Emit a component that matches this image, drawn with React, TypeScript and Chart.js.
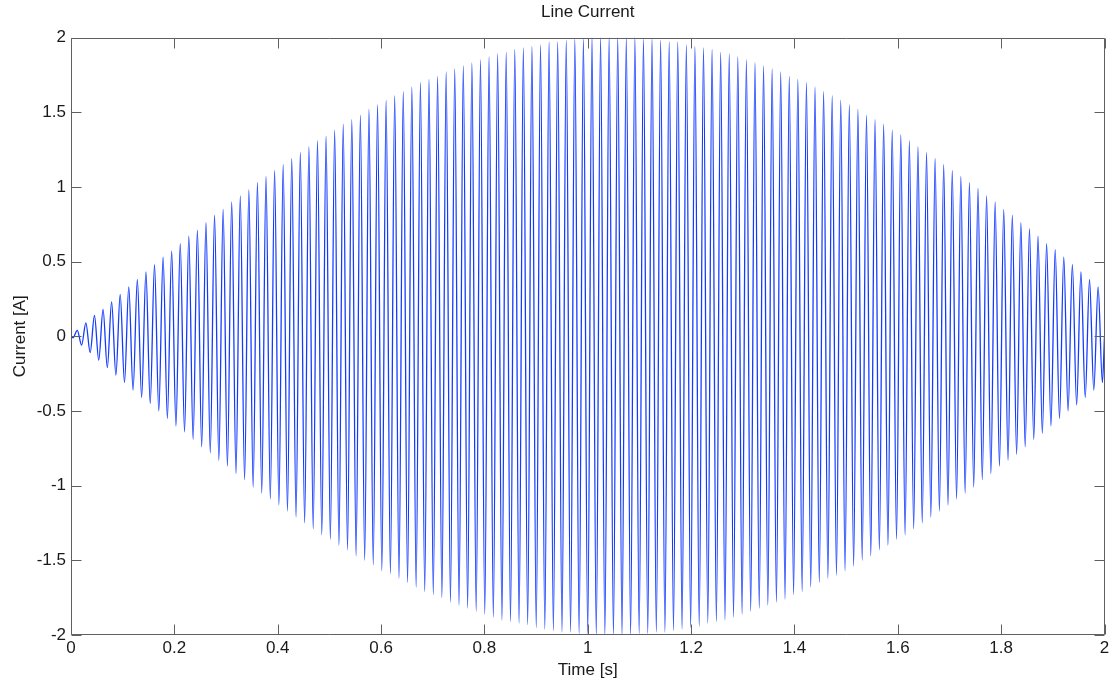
import React, { useEffect, useRef } from "react";
import { Chart, registerables } from "chart.js";

Chart.register(...registerables);

// ---- Text ----
const chartTitle = "Line Current";
const xAxisTitle = "Time [s]";
const yAxisTitle = "Current [A]";

// ---- Axis ticks ----
const xTicks = [0, 0.2, 0.4, 0.6, 0.8, 1, 1.2, 1.4, 1.6, 1.8, 2];
const xTickLabels = ["0", "0.2", "0.4", "0.6", "0.8", "1", "1.2", "1.4", "1.6", "1.8", "2"];
const yTicks = [-2, -1.5, -1, -0.5, 0, 0.5, 1, 1.5, 2];
const yTickLabels = ["-2", "-1.5", "-1", "-0.5", "0", "0.5", "1", "1.5", "2"];

// ---- Signal ----
// start of trace, first tiny dip, then alternating extrema every half period
const startTime = 0;
const startValue = 0;
const firstDipTime = 0.0039;
const firstDipValue = -0.01;
const firstPeakTime = 0.0122; // time of first positive extremum [s]
const halfPeriod = 0.0083; // measured spacing between successive extrema [s]
const endTime = 2;
const endValue = 0;

// positive extrema (one per cycle), in time order
const positivePeaks = [
  0.04, 0.09, 0.14, 0.18, 0.23, 0.28, 0.33, 0.38, 0.43, 0.48,
  0.53, 0.57, 0.62, 0.67, 0.71, 0.76, 0.81, 0.85, 0.90, 0.94,
  0.98, 1.03, 1.07, 1.11, 1.15, 1.19, 1.23, 1.27, 1.31, 1.34,
  1.38, 1.42, 1.45, 1.48, 1.52, 1.55, 1.58, 1.61, 1.64, 1.67,
  1.70, 1.72, 1.74, 1.77, 1.79, 1.81, 1.83, 1.85, 1.87, 1.89,
  1.90, 1.92, 1.93, 1.94, 1.95, 1.97, 1.97, 1.98, 1.99, 1.99,
  2.00, 2.00, 2.00, 2.00, 2.00, 2.00, 1.99, 1.99, 1.98, 1.97,
  1.97, 1.95, 1.94, 1.93, 1.92, 1.90, 1.89, 1.87, 1.85, 1.83,
  1.81, 1.79, 1.77, 1.74, 1.72, 1.70, 1.67, 1.64, 1.61, 1.58,
  1.55, 1.52, 1.48, 1.45, 1.42, 1.38, 1.35, 1.31, 1.27, 1.23,
  1.19, 1.15, 1.11, 1.07, 1.03, 0.99, 0.94, 0.90, 0.85, 0.81,
  0.76, 0.72, 0.67, 0.62, 0.58, 0.53, 0.48, 0.43, 0.38, 0.33,
];

// negative extrema (one per cycle), in time order
const negativePeaks = [
  -0.06, -0.11, -0.16, -0.21, -0.26, -0.31, -0.36, -0.41, -0.45, -0.50,
  -0.55, -0.60, -0.64, -0.69, -0.74, -0.78, -0.83, -0.87, -0.92, -0.96,
  -1.01, -1.05, -1.09, -1.13, -1.17, -1.21, -1.25, -1.29, -1.33, -1.36,
  -1.40, -1.43, -1.47, -1.50, -1.53, -1.57, -1.59, -1.62, -1.65, -1.68,
  -1.71, -1.73, -1.75, -1.78, -1.80, -1.82, -1.84, -1.86, -1.88, -1.90,
  -1.91, -1.92, -1.93, -1.95, -1.96, -1.97, -1.98, -1.98, -1.99, -1.99,
  -2.00, -2.00, -2.00, -2.00, -2.00, -1.99, -1.99, -1.98, -1.98, -1.97,
  -1.96, -1.95, -1.94, -1.92, -1.91, -1.90, -1.88, -1.86, -1.84, -1.82,
  -1.80, -1.78, -1.76, -1.73, -1.71, -1.68, -1.65, -1.62, -1.60, -1.57,
  -1.54, -1.50, -1.47, -1.43, -1.40, -1.36, -1.33, -1.29, -1.25, -1.21,
  -1.17, -1.13, -1.09, -1.05, -1.01, -0.96, -0.92, -0.87, -0.83, -0.79,
  -0.74, -0.69, -0.65, -0.60, -0.55, -0.50, -0.46, -0.41, -0.36, -0.31,
];

const FONT = "'Liberation Sans', Arial, Helvetica, sans-serif";
const TEXT_COLOR = "#1a1a1a";
const AXIS_COLOR = "#606060";
const LINE_COLOR = "rgb(20, 60, 255)";

function buildPoints() {
  const pts: { x: number; y: number }[] = [
    { x: startTime, y: startValue },
    { x: firstDipTime, y: firstDipValue },
  ];
  for (let k = 0; k < positivePeaks.length; k++) {
    pts.push({ x: firstPeakTime + 2 * k * halfPeriod, y: positivePeaks[k] });
    pts.push({ x: firstPeakTime + (2 * k + 1) * halfPeriod, y: negativePeaks[k] });
  }
  pts.push({ x: endTime, y: endValue });
  return pts;
}

const boxAndTicksPlugin = {
  id: "boxAndTicks",
  afterDraw(chart: any) {
    const { ctx, chartArea } = chart;
    const xs = chart.scales.x;
    const ys = chart.scales.y;
    const L = Math.round(chartArea.left) + 0.5;
    const R = Math.round(chartArea.right) - 0.5;
    const T = Math.round(chartArea.top) + 0.5;
    const B = Math.round(chartArea.bottom) - 0.5;
    const len = 10;
    ctx.save();
    ctx.strokeStyle = AXIS_COLOR;
    ctx.lineWidth = 1;
    ctx.beginPath();
    ctx.rect(L, T, R - L, B - T);
    xs.ticks.forEach((t: any) => {
      const px = Math.round(xs.getPixelForValue(t.value)) + 0.5;
      ctx.moveTo(px, B);
      ctx.lineTo(px, B - len);
      ctx.moveTo(px, T);
      ctx.lineTo(px, T + len);
    });
    ys.ticks.forEach((t: any) => {
      const py = Math.round(ys.getPixelForValue(t.value)) + 0.5;
      ctx.moveTo(L, py);
      ctx.lineTo(L + len, py);
      ctx.moveTo(R, py);
      ctx.lineTo(R - len, py);
    });
    ctx.stroke();
    ctx.restore();
  },
};

export default function App() {
  const canvasRef = useRef<HTMLCanvasElement | null>(null);

  useEffect(() => {
    if (!canvasRef.current) return;
    const font = { family: FONT, size: 17, weight: "normal" as const };
    const chart = new Chart(canvasRef.current, {
      type: "line",
      data: {
        datasets: [
          {
            data: buildPoints(),
            borderColor: LINE_COLOR,
            borderWidth: 1.3,
            pointRadius: 0,
            fill: false,
            cubicInterpolationMode: "monotone",
          },
        ],
      },
      options: {
        animation: false,
        responsive: false,
        maintainAspectRatio: false,
        layout: { padding: { top: 0, left: 0, right: 9.5, bottom: 0 } },
        plugins: {
          legend: { display: false },
          tooltip: { enabled: false },
          title: { display: false },
        },
        scales: {
          x: {
            type: "linear",
            min: 0,
            max: 2,
            afterBuildTicks: (s: any) => {
              s.ticks = xTicks.map((v) => ({ value: v }));
            },
            afterFit: (s: any) => {
              s.height = 50;
            },
            ticks: {
              autoSkip: false,
              maxRotation: 0,
              padding: 3,
              color: TEXT_COLOR,
              font,
              callback: (v: any) => {
                const i = xTicks.indexOf(Number(v));
                return i >= 0 ? xTickLabels[i] : "";
              },
            },
            grid: { display: false, drawTicks: false },
            border: { display: false },
            title: {
              display: true,
              text: xAxisTitle,
              color: TEXT_COLOR,
              font,
              padding: { top: 0, bottom: 4 },
            },
          },
          xTop: {
            type: "linear",
            position: "top",
            min: 0,
            max: 2,
            afterFit: (s: any) => {
              s.height = 37.5;
            },
            ticks: { display: false },
            grid: { display: false, drawTicks: false },
            border: { display: false },
            title: {
              display: true,
              text: chartTitle,
              color: TEXT_COLOR,
              font,
              padding: { top: 2, bottom: 0 },
            },
          },
          y: {
            type: "linear",
            min: -2,
            max: 2,
            afterBuildTicks: (s: any) => {
              s.ticks = yTicks.map((v) => ({ value: v }));
            },
            afterFit: (s: any) => {
              s.width = 71;
            },
            ticks: {
              padding: 5,
              color: TEXT_COLOR,
              font,
              callback: (v: any) => {
                const i = yTicks.indexOf(Number(v));
                return i >= 0 ? yTickLabels[i] : "";
              },
            },
            grid: { display: false, drawTicks: false },
            border: { display: false },
            title: {
              display: true,
              text: yAxisTitle,
              color: TEXT_COLOR,
              font,
              padding: { top: 10, bottom: 0 },
            },
          },
        },
      },
      plugins: [boxAndTicksPlugin],
    } as any);
    return () => chart.destroy();
  }, []);

  return (
    <div
      style={{
        position: "fixed",
        left: 0,
        top: 0,
        width: 1114,
        height: 685,
        background: "#ffffff",
      }}
    >
      <canvas ref={canvasRef} width={1114} height={685} style={{ display: "block" }} />
    </div>
  );
}
